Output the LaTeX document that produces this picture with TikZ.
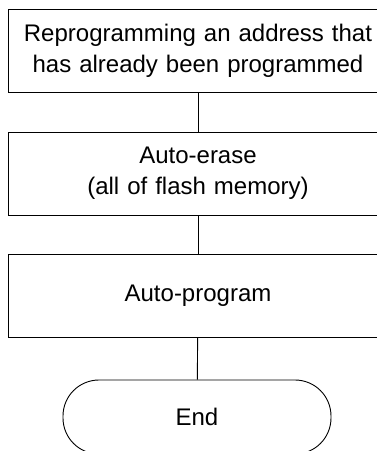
\documentclass[tikz,border=0pt]{standalone}
\usepackage{fontspec}
\setmainfont{Liberation Sans}
\usepackage{tikz}
\usetikzlibrary{positioning}

\begin{document}
\begin{tikzpicture}[
  x=1pt, y=-1pt,
  font=\fontsize{24}{31}\selectfont,
  stepbox/.style={draw=black, line width=0.9pt, align=center, minimum width=380pt, minimum height=83pt, text width=360pt, inner sep=0pt},
  terminal/.style={draw=black, line width=0.9pt, rounded corners=36pt, align=center, minimum width=268pt, minimum height=74pt},
  link/.style={line width=0.9pt, draw=black}
]
\useasboundingbox (0,0) rectangle (376,451);
\node[stepbox] (reprog) at (198,50.5) {Reprogramming an address that\\has already been programmed};
\node[stepbox] (erase) at (198,173.5) {Auto-erase\\(all of flash memory)};
\node[stepbox] (program) at (198,296) {Auto-program};
\node[terminal] (finish) at (197,417) {End};

\draw[link] (reprog) -- (erase);
\draw[link] (erase) -- (program);
\draw[link] (program) -- (finish);
\end{tikzpicture}
\end{document}
